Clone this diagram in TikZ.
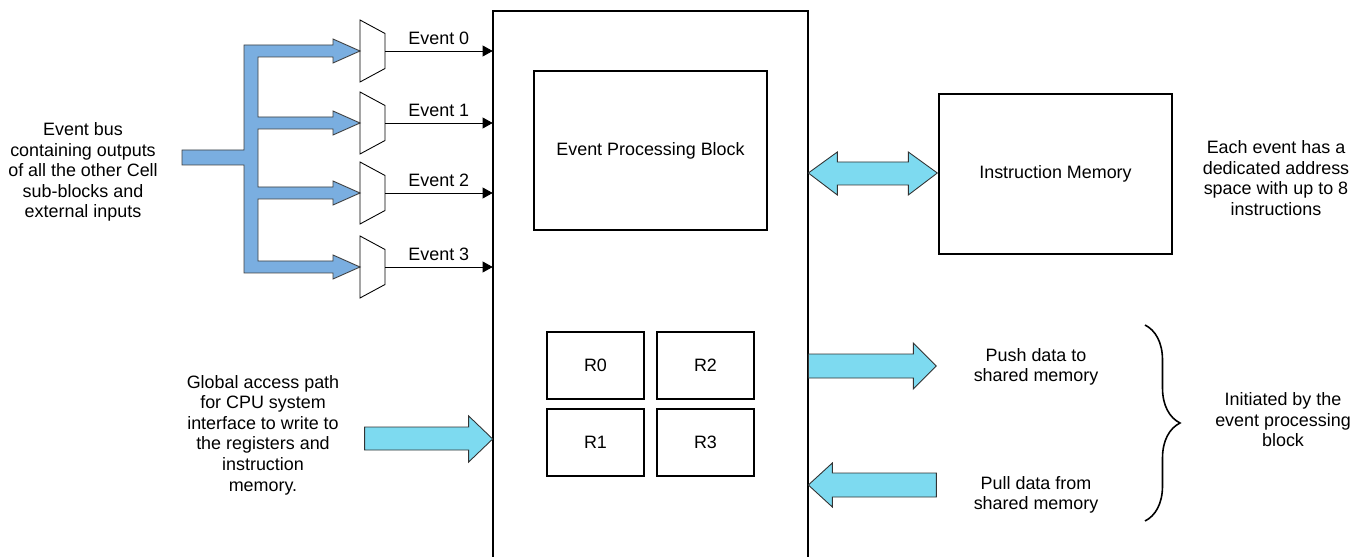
\documentclass[tikz,border=0pt]{standalone}
\usepackage{fontspec}
\setmainfont{Liberation Sans}
\usetikzlibrary{arrows.meta, decorations.pathreplacing}
\definecolor{busblue}{RGB}{122,174,224}
\definecolor{linkcyan}{RGB}{125,218,240}
\tikzset{
  txt/.style={font=\fontsize{10.2}{11.7}\selectfont, align=center},
  box/.style={draw, line width=1pt, inner sep=0pt, txt},
  reg/.style={box, minimum width=1.94cm, minimum height=1.34cm},
  muxline/.style={line width=0.5pt, line join=miter},
  evline/.style={line width=0.5pt, -{Triangle[length=5.7pt,width=6.2pt]}},
  fat/.style={fill=linkcyan, draw=black!80, line width=0.5pt},
}

\begin{document}
\begin{tikzpicture}[x=0.02cm, y=-0.02cm]
\useasboundingbox (0,0) rectangle (1366,557);

% cell block, open at the bottom
\path (650.5,284) node[minimum width=6.3cm, minimum height=10.92cm, inner sep=0pt] (main) {};
\draw[line width=1pt] (main.south west) -- (main.north west) -- (main.north east) -- (main.south east);

\path (650.5,150.5) node[box, minimum width=4.66cm, minimum height=3.18cm] (epb) {Event Processing Block};
\path (1055.5,174) node[box, minimum width=4.66cm, minimum height=3.2cm] (imem) {Instruction Memory};

\path (595.5,365.5) node[reg] (r0) {R0};
\path (705.5,365.5) node[reg] (r2) {R2};
\path (595.5,442.5) node[reg] (r1) {R1};
\path (705.5,442.5) node[reg] (r3) {R3};

% event bus
\filldraw[fill=busblue, draw=black!75, line width=0.5pt]
  (182,150) -- (244,150) -- (244,45) -- (333,45) -- (333,39) -- (360,51) -- (333,63) -- (333,57) -- (258,57)
  -- (258,117) -- (333,117) -- (333,111) -- (360,123) -- (333,135) -- (333,129) -- (258,129)
  -- (258,187) -- (333,187) -- (333,181) -- (360,193) -- (333,205) -- (333,199) -- (258,199)
  -- (258,261) -- (333,261) -- (333,255) -- (360,267) -- (333,279) -- (333,273) -- (244,273)
  -- (244,165) -- (182,165) -- cycle;

% muxes, named at their outputs
\coordinate (mux0) at (385,51);
\coordinate (mux1) at (385,123);
\coordinate (mux2) at (385,193);
\coordinate (mux3) at (385,267);
\draw[muxline] (mux0) ++(0,-17.5) -- ++(-25,-13.5) -- ++(0,62) -- ++(25,-13.5) -- cycle;
\draw[muxline] (mux1) ++(0,-17.5) -- ++(-25,-13.5) -- ++(0,62) -- ++(25,-13.5) -- cycle;
\draw[muxline] (mux2) ++(0,-17.5) -- ++(-25,-13.5) -- ++(0,62) -- ++(25,-13.5) -- cycle;
\draw[muxline] (mux3) ++(0,-17.5) -- ++(-25,-13.5) -- ++(0,62) -- ++(25,-13.5) -- cycle;

\draw[evline] (mux0) -- (mux0 -| main.west) node[midway, above, txt] {Event 0};
\draw[evline] (mux1) -- (mux1 -| main.west) node[midway, above, txt] {Event 1};
\draw[evline] (mux2) -- (mux2 -| main.west) node[midway, above, txt] {Event 2};
\draw[evline] (mux3) -- (mux3 -| main.west) node[midway, above, txt] {Event 3};

% wide arrows
\draw[fat] (main.east |- 0,173) -- ++(29,-21) -- ++(0,10) -- ++(71,0) -- ++(0,-10) -- ++(29,21) -- ++(-29,22) -- ++(0,-10) -- ++(-71,0) -- ++(0,10) -- cycle;
\draw[fat] (main.east |- 0,354) -- ++(105,0) -- ++(0,-11) -- ++(23,23) -- ++(-23,23) -- ++(0,-11) -- ++(-105,0) -- cycle;
\draw[fat] (main.east |- 0,485) -- ++(24,-22) -- ++(0,10) -- ++(104,0) -- ++(0,24) -- ++(-104,0) -- ++(0,10) -- cycle;
\draw[fat] (main.west |- 0,439) -- ++(-24,-23) -- ++(0,11) -- ++(-104,0) -- ++(0,23) -- ++(104,0) -- ++(0,12) -- cycle;

% brace
\coordinate (btop) at (1145,325);
\coordinate (bbot) at (1145,521);
\draw[line width=0.9pt, decorate, decoration={brace, amplitude=0.7cm}] (btop) -- (bbot);

\path (83,172) node[txt] (bustxt) {Event bus\\containing outputs\\of all the other Cell\\sub-blocks and\\external inputs};
\path (263,435) node[txt] (cputxt) {Global access path\\for CPU system\\interface to write to\\the registers and\\instruction\\memory.};
\path (1276,178) node[txt] (addrtxt) {Each event has a\\dedicated address\\space with up to 8\\instructions};
\path (1036,367) node[txt] (pushtxt) {Push data to\\shared memory};
\path (1036,495) node[txt] (pulltxt) {Pull data from\\shared memory};
\path (1283,420) node[txt] (inittxt) {Initiated by the\\event processing\\block};
\end{tikzpicture}
\end{document}
